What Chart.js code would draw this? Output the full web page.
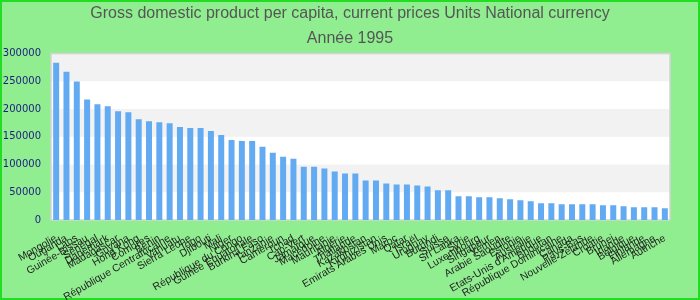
<!DOCTYPE html>
<html>
<head>
<meta charset="utf-8">
<script src="https://cdn.jsdelivr.net/npm/chart.js@4/dist/chart.umd.min.js"></script>
<style>
  html, body { margin: 0; padding: 0; background: #90ee90; }
  #wrap { width: 700px; height: 300px; }
</style>
</head>
<body>
<div id="wrap"><canvas id="canva" width="700" height="300"></canvas></div>
<script>
const titleLines = ['Gross domestic product per capita, current prices Units National currency', 'Année 1995'];

const countries = [
    'Mongolie', 'Ouganda', 'Laos', 'Guinée-Bissau', 'Sénégal', 'Danemark',
    'Madagascar', 'Guyana', 'Hong Kong', 'Comores', 'Bénin', 'République Centrafricaine',
    'Vanuatu', 'Sierra Leone', 'Togo', 'Djibouti', 'Mali', 'Niger',
    'République du Congo', 'Guinée Equatoriale', 'Burkina Faso', 'Tanzanie', 'Cameroun', 'Tchad',
    'Cap-Vert', 'Jamaïque', 'Macédoine', 'Mauritanie', 'Algérie', 'Thaïlande',
    'Kazakhstan', 'Kirghizistan', 'Emirats Arabes Unis', 'Maroc', 'Qatar', 'Israël',
    'Uruguay', 'Burundi', 'Suisse', 'Sri Lanka', 'Syrie', 'Luxembourg',
    'Singapour', 'Yémen', 'Arabie Saoudite', 'Estonie', 'Australie', "Etats-Unis d'Amérique",
    'Bhoutan', 'République Dominicaine', 'Canada', 'Pays-Bas', 'Nouvelle-Zélande', 'Croatie',
    'Brunei', 'Irlande', 'Belgique', 'Finlande', 'Allemagne', 'Autriche'
];

const gdpPerCapita = [
    283300, 267300, 249500, 217400, 208500, 204900,
    196000, 194200, 181800, 178200, 176400, 174600,
    167500, 165700, 165700, 160400, 153300, 144300,
    142600, 142600, 131900, 121200, 114000, 110500,
    96200, 96200, 92700, 87300, 83800, 83800,
    71300, 71300, 65900, 64200, 64200, 62400,
    60600, 53500, 53500, 42800, 42800, 41000,
    41000, 39200, 37400, 35600, 33900, 30300,
    30300, 28500, 28500, 28500, 28500, 26700,
    26700, 24900, 23200, 23200, 23200, 21400
];

const yTicks = [0, 50000, 100000, 150000, 200000, 250000, 300000];

// fond vert, cadre, bandes grises alternées
const decor = {
    id: 'decor',
    beforeDraw(chart) {
        const { ctx, width, height } = chart;
        ctx.save();
        ctx.fillStyle = '#90ee90';
        ctx.fillRect(0, 0, width, height);
        ctx.strokeStyle = '#22dd22';
        ctx.lineWidth = 2;
        ctx.strokeRect(1, 1, width - 2, height - 2);
        ctx.restore();
    },
    beforeDatasetsDraw(chart) {
        const { ctx, chartArea: a, scales } = chart;
        const y = scales.y;
        ctx.save();
        ctx.fillStyle = '#ffffff';
        ctx.fillRect(a.left, a.top, a.right - a.left, a.bottom - a.top);
        for (let i = 0; i < yTicks.length - 1; i++) {
            if (i % 2 === 1) {
                const y0 = y.getPixelForValue(yTicks[i]);
                const y1 = y.getPixelForValue(yTicks[i + 1]);
                ctx.fillStyle = '#f2f2f2';
                ctx.fillRect(a.left, y1, a.right - a.left, y0 - y1);
            }
        }
        ctx.strokeStyle = '#d4d4d4';
        ctx.lineWidth = 1.5;
        ctx.strokeRect(a.left, a.top, a.right - a.left, a.bottom - a.top);
        ctx.restore();
    }
};

new Chart(document.getElementById('canva').getContext('2d'), {
    type: 'bar',
    data: {
        labels: countries,
        datasets: [{
            data: gdpPerCapita,
            backgroundColor: '#62aaf2',
            borderWidth: 0,
            categoryPercentage: 1,
            barPercentage: 0.58,
        }],
    },
    options: {
        responsive: false,
        animation: false,
        layout: { padding: 0 },
        scales: {
            x: {
                grid: { display: false, drawTicks: false },
                border: { display: false },
                afterFit(axis) {
                    axis.height = 80;
                },
                ticks: {
                    autoSkip: false,
                    minRotation: 30,
                    maxRotation: 30,
                    padding: 12,
                    color: '#222',
                    font: { family: 'Liberation Sans', size: 10.5 },
                },
            },
            y: {
                min: 0,
                max: 300000,
                afterBuildTicks(axis) {
                    axis.ticks = yTicks.map((v) => ({ value: v }));
                },
                afterFit(axis) {
                    axis.width = 51;
                },
                grid: { display: false, drawTicks: false },
                border: { display: false },
                ticks: {
                    padding: 10,
                    color: '#1c1c80',
                    font: { family: 'DejaVu Sans', size: 10 },
                    callback: (v) => String(v),
                },
            },
            // marge droite vide
            yRight: {
                position: 'right',
                grid: { display: false, drawTicks: false },
                border: { display: false },
                ticks: { display: false },
                afterFit(axis) {
                    axis.width = 30;
                },
            },
        },
        plugins: {
            legend: { display: false },
            tooltip: { enabled: false },
            title: {
                display: true,
                text: titleLines,
                color: '#555',
                font: { family: 'Liberation Sans', size: 16, weight: 'normal', lineHeight: 1.55 },
                padding: { top: 1, bottom: 3 },
            },
        },
    },
    plugins: [decor],
});
</script>
</body>
</html>
